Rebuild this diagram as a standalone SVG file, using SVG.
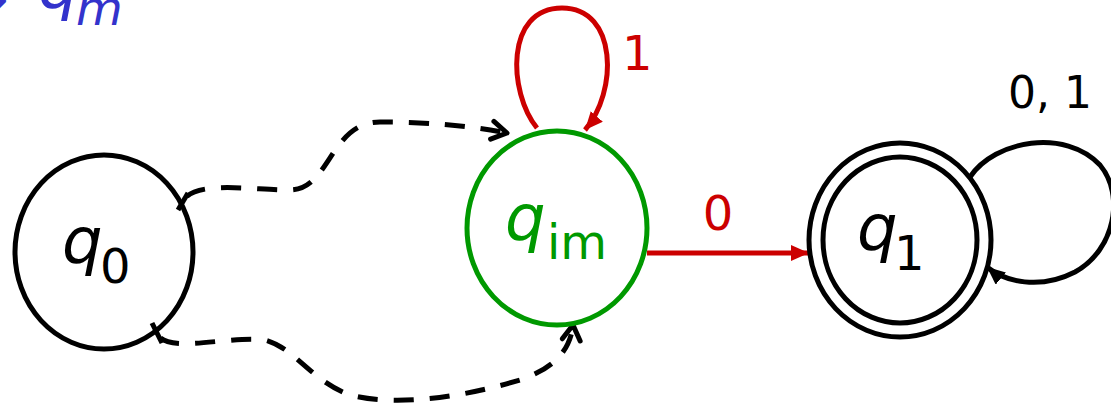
<svg xmlns="http://www.w3.org/2000/svg" width="1111" height="405" viewBox="0 0 1111 405">
<style>
.lbl{font-family:"DejaVu Sans",sans-serif}
.q{font-style:italic;font-size:64px}
.sub{font-size:48px}
.st{fill:none;stroke-width:5}
.dash{fill:none;stroke:#000;stroke-width:5;stroke-dasharray:20 16}
</style>
<defs>
<marker id="ar" markerUnits="userSpaceOnUse" markerWidth="20" markerHeight="18" refX="18" refY="8" orient="auto"><path d="M0,0 L18,8 L0,16 z" fill="#cc0000"/></marker>
<marker id="ab" markerUnits="userSpaceOnUse" markerWidth="20" markerHeight="18" refX="18" refY="8" orient="auto"><path d="M0,0 L18,8 L0,16 z" fill="#000"/></marker>
<marker id="ch" markerUnits="userSpaceOnUse" markerWidth="26" markerHeight="26" refX="19" refY="13" orient="auto"><path d="M4,4 L19,13 L4,22" fill="none" stroke="#000" stroke-width="5" stroke-linecap="round" stroke-linejoin="round"/></marker>
</defs>

<g id="title" class="lbl" fill="#3333cc">
<text x="-32" y="16" font-size="48">→</text>
<text x="38" y="8" class="q">q</text>
<text x="76" y="25" font-size="48" font-style="italic">m</text>
</g>

<g id="connectors">
<path d="M537 128 C508 92, 505 8, 562 8 C618 8, 618 92, 585 130" class="st" stroke="#cc0000" marker-end="url(#ar)"/>
<text x="622" y="70" class="lbl" font-size="48" fill="#cc0000">1</text>
<path d="M647 253 L809 253" class="st" stroke="#cc0000" marker-end="url(#ar)"/>
<text x="718" y="230" class="lbl" font-size="48" fill="#cc0000" text-anchor="middle">0</text>
<path d="M970 177 C995 140, 1065 128, 1100 165 C1125 195, 1115 250, 1075 272 C1040 290, 1005 282, 987 267" class="st" stroke="#000" marker-end="url(#ab)"/>
<text x="1050" y="108" class="lbl" font-size="44" text-anchor="middle">0, 1</text>
<path d="M183 201 C195 180, 250 190, 290 190 C330 190, 330 122, 380 122 C430 122, 470 126, 507 133" class="dash" stroke-dashoffset="-6" marker-end="url(#ch)"/>
<line x1="178" y1="210" x2="188" y2="193" stroke="#000" stroke-width="5"/>
<path d="M157 333 C165 355, 230 335, 265 340 C295 348, 310 380, 350 395 C400 408, 470 395, 520 380 C555 368, 570 350, 573 325" class="dash" stroke-dashoffset="-6" marker-end="url(#ch)"/>
<line x1="152" y1="323" x2="162" y2="343" stroke="#000" stroke-width="5"/>
</g>

<g id="q0">
<ellipse cx="104" cy="252" rx="89" ry="97" class="st" stroke="#000"/>
<text x="62" y="263" class="lbl q">q</text>
<text x="100" y="283" class="lbl sub">0</text>
</g>

<g id="qim">
<ellipse cx="557" cy="228" rx="90" ry="97" class="st" stroke="#009900"/>
<g class="lbl" fill="#009900">
<text x="505" y="240" class="q">q</text>
<text x="547" y="259" class="sub">im</text>
</g>
</g>

<g id="q1">
<ellipse cx="900" cy="240" rx="91" ry="97" class="st" stroke="#000"/>
<ellipse cx="900" cy="240" rx="77" ry="83" class="st" stroke="#000"/>
<text x="857" y="250" class="lbl q">q</text>
<text x="894" y="270" class="lbl sub">1</text>
</g>
</svg>
